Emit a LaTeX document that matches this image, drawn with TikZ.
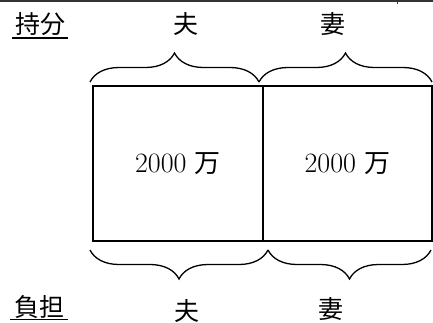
\documentclass[tikz,border=0pt]{standalone}
\usepackage{fontspec}
\newfontfamily\jp{Noto Sans CJK JP}
\usetikzlibrary{decorations.pathreplacing}
\begin{document}
\begin{tikzpicture}[x=1pt,y=-1pt,
  cell/.style={draw,line width=1.6pt,minimum width=170pt,minimum height=155pt,inner sep=0pt,outer sep=0pt},
  lab/.style={inner sep=0pt,font=\jp\fontsize{25}{25}\selectfont},
  num/.style={inner sep=0pt,font=\fontsize{28}{28}\selectfont},
  bracestyle/.style={line width=1.3pt,decorate,decoration={brace,amplitude=29pt}},
  uline/.style={line width=1.4pt}]
\useasboundingbox (0,0) rectangle (433,322);
% top scan edge
\draw[line width=2.5pt,black!80] (0,1) -- (433,1);
\draw[line width=1pt,black!80] (397,0) -- (397,4);
% cells
\node[cell,anchor=north west] (L) at (93,86) {};
\node[cell,anchor=north west,minimum width=169pt] (R) at (263,86) {};
\node[num] (vL) at (L.center) {2000 {\jp\fontsize{26}{26}\selectfont 万}};
\node[num] (vR) at (R.center) {2000 {\jp\fontsize{26}{26}\selectfont 万}};
% top labels
\node[lab] (mochi) at (40,24) {持分};
\draw[uline] (12,38) -- (68,38);
\node[lab] (otto1) at (186,24) {夫};
\node[lab] (tsuma1) at (333,24) {妻};
% bottom labels
\node[lab] (futan) at (39,307) {負担};
\draw[uline] (10,319.5) -- (68,319.5);
\node[lab] (otto2) at (187,311) {夫};
\node[lab] (tsuma2) at (331,309) {妻};
% braces
\coordinate (ta) at (90,82);
\coordinate (tb) at (259,82);
\coordinate (tc) at (432,82);
\draw[bracestyle] (ta) -- (tb);
\draw[bracestyle] (tb) -- (tc);
\coordinate (ba) at (90,250);
\coordinate (bb) at (268,250);
\coordinate (bc) at (431,250);
\draw[bracestyle] (bb) -- (ba);
\draw[bracestyle] (bc) -- (bb);
\end{tikzpicture}
\end{document}
